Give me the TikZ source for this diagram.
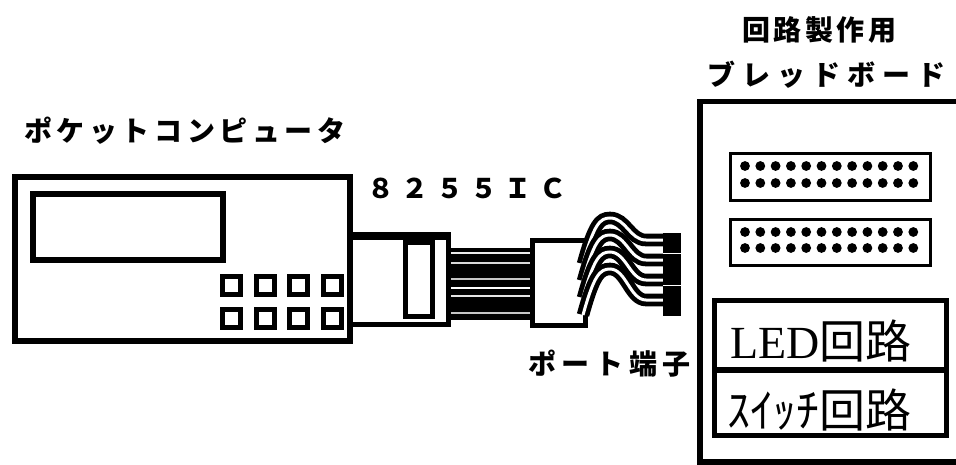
\documentclass[tikz,border=0pt]{standalone}
\usepackage{fontspec}
\setmainfont{Liberation Serif}
\newfontfamily\jp{Noto Sans CJK JP}
\makeatletter
% set each character in a cell of fixed pitch
\newcommand\spreadtext[2]{\@tfor\ch:=#2\do{\hbox to #1{\ch\hss}}}
\makeatother
\begin{document}
\begin{tikzpicture}[x=1pt,y=-1pt,
  heavy/.style={line width=5.5pt},
  keycap/.style={line width=5pt},
  strip/.style={line width=3pt},
  wire/.style={line width=4.8pt,double=white,double distance=3pt},
  lbl/.style={inner sep=0pt,anchor=west},
  bigtext/.style={inner sep=0pt,anchor=west,font=\fontsize{46pt}{46pt}\selectfont}]
\useasboundingbox (0,0) rectangle (956,464);
\clip (0,0) rectangle (956,464);

% pocket computer: case, display, keys
\draw[heavy] (15,177) rectangle (350,341);
\draw[heavy] (33,194) rectangle (223,260);
\foreach \x in {231,265,298,332}
  \foreach \y in {285,318}
    \draw[keycap] (\x-9,\y-9) rectangle (\x+9,\y+9);

% 8255 interface plug
\draw[line width=5pt] (350,237) rectangle (448,324);
\draw[line width=8pt] (350,236) -- (451,236);
\draw[heavy] (405.5,242) rectangle (432.5,316.5);

% flat ribbon cable
\fill (451,248) rectangle (532,320);
\foreach \y/\c in {253/gray!15,263/gray!30,279/gray!45,288/white,296/gray!20,313/gray!45}
  \draw[\c,line width=1.5pt] (451,\y) -- (530,\y);

% port terminal block
\draw[line width=5pt,fill=white] (532,240.5) rectangle (585,325.5);

% four wires to the terminal strip
\foreach \k in {0,1,2,3}{
  \draw[wire] (583,264+17*\k) .. controls (594,224+17*\k) and (600,218+17*\k) .. (610,218+17*\k)
     .. controls (626,218+17*\k) and (630,240+20*\k) .. (646,240+20*\k) -- (666,240+20*\k);
}
\fill (663,233) rectangle (681,316);
\foreach \y in {253,285}
  \draw[white,line width=1pt] (663,\y) -- (681,\y);

% breadboard
\draw[heavy] (700,101.5) rectangle (980,462);
\foreach \t/\b/\ra/\rb in {153/200/166/183,219/265.5/232/248}{
  \draw[strip] (730,\t) rectangle (930,\b);
  \foreach \i in {0,...,11}{
    \foreach \yy in {\ra,\rb}
      \fill (745+15.3*\i,\yy) circle[radius=4.9pt];
  }
}

% LED and switch circuits
\draw[heavy] (714.5,300.5) rectangle (946.5,435.5);
\draw[heavy] (714.5,370) -- (946.5,370);
\node[bigtext] (led) at (730,341) {LED{\jp 回路}};
\node[bigtext] (sw) at (727,410) {\jp ｽｲｯﾁ回路};

% labels
\node[lbl,font=\jp\bfseries\fontsize{28pt}{28pt}\selectfont] (pc) at (24,131)
  {\spreadtext{32.6pt}{ポケットコンピュータ}};
\node[lbl,font=\jp\bfseries\fontsize{27pt}{27pt}\selectfont] (ic) at (367,188)
  {\spreadtext{34.4pt}{８２５５ＩＣ}};
\node[lbl,font=\jp\bfseries\fontsize{28pt}{28pt}\selectfont] (make) at (742,30)
  {\spreadtext{31.6pt}{回路製作用}};
\node[lbl,font=\jp\bfseries\fontsize{28pt}{28pt}\selectfont] (bb) at (707,75)
  {\spreadtext{35pt}{ブレッドボード}};
\node[lbl,font=\jp\bfseries\fontsize{28pt}{28pt}\selectfont] (port) at (528,364)
  {\spreadtext{33.7pt}{ポート端子}};
\end{tikzpicture}
\end{document}
